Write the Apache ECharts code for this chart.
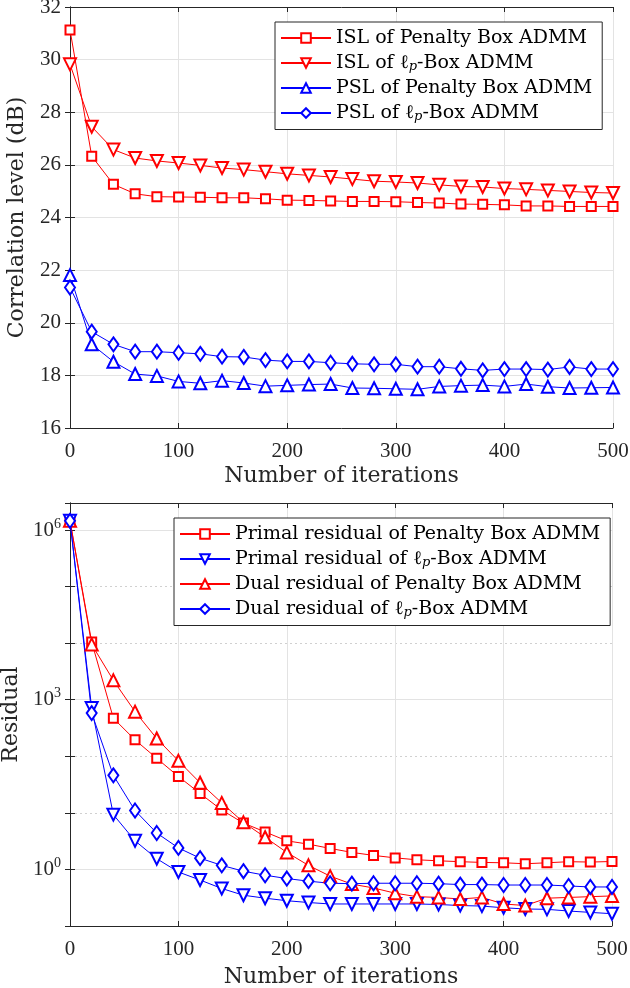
<!DOCTYPE html>
<html>
<head>
<meta charset="utf-8">
<script src="https://cdn.jsdelivr.net/npm/echarts@6/dist/echarts.min.js"></script>
<style>
html,body{margin:0;padding:0;background:#fff;}
#c{width:630px;height:988px;}
</style>
</head>
<body>
<div id="c"></div>
<script>
// ---- data ----
const iterations = [0,20,40,60,80,100,120,140,160,180,200,220,240,260,280,300,320,340,360,380,400,420,440,460,480,500];

const islPenalty = [31.13,26.33,25.26,24.90,24.79,24.78,24.77,24.75,24.75,24.71,24.66,24.65,24.63,24.61,24.61,24.60,24.57,24.55,24.51,24.50,24.48,24.44,24.44,24.42,24.42,24.42];
const islLp      = [29.82,27.45,26.58,26.26,26.15,26.07,25.98,25.88,25.82,25.74,25.66,25.60,25.54,25.46,25.38,25.35,25.31,25.24,25.18,25.16,25.10,25.07,25.03,24.99,24.95,24.93];
const pslPenalty = [21.81,19.18,18.52,18.05,17.98,17.77,17.70,17.80,17.71,17.59,17.62,17.65,17.67,17.52,17.51,17.49,17.47,17.58,17.61,17.63,17.58,17.67,17.57,17.52,17.53,17.54];
const pslLp      = [21.34,19.66,19.18,18.90,18.90,18.86,18.82,18.71,18.70,18.58,18.53,18.53,18.48,18.44,18.42,18.42,18.33,18.33,18.25,18.19,18.24,18.24,18.22,18.32,18.24,18.24];

const primalPenalty = [1.45e6,1.05e4,470,195,92,44,22,11.2,6.6,4.6,3.2,2.8,2.35,2.0,1.77,1.6,1.48,1.42,1.37,1.33,1.31,1.26,1.31,1.37,1.35,1.38];
const primalLp      = [1.45e6,710,9.3,3.2,1.55,0.9,0.65,0.46,0.35,0.31,0.28,0.26,0.245,0.245,0.245,0.245,0.245,0.24,0.23,0.225,0.21,0.20,0.197,0.184,0.174,0.165];
const dualPenalty   = [1.45e6,9.5e3,2.2e3,615,206,83,34,15,6.8,3.7,2.0,1.18,0.76,0.55,0.47,0.38,0.33,0.32,0.30,0.32,0.245,0.23,0.31,0.32,0.33,0.34];
const dualLp        = [1.45e6,580,46,11,4.4,2.4,1.58,1.18,0.93,0.79,0.69,0.62,0.57,0.56,0.57,0.57,0.57,0.56,0.54,0.54,0.53,0.53,0.53,0.51,0.49,0.49];

const namesTop = ['ISL of Penalty Box ADMM','ISL of ℓp-Box ADMM','PSL of Penalty Box ADMM','PSL of ℓp-Box ADMM'];
const namesBot = ['Primal residual of Penalty Box ADMM','Primal residual of ℓp-Box ADMM','Dual residual of Penalty Box ADMM','Dual residual of ℓp-Box ADMM'];

// ---- styles ----
const FONT = 'Liberation Serif';
const TFONT = 'DejaVu Serif';
const AX = '#262626';
const GRID = '#e3e3e3';
const RED = '#ff0000', BLUE = '#0000ff';

function pairs(vals){ return iterations.map((x,i)=>[x, vals[i]]); }

const richText = {
  l: {fontFamily: TFONT, fontSize: 19, color: '#000', lineHeight: 20},
  s: {fontFamily: TFONT, fontSize: 13, fontStyle: 'italic', color: '#000', padding: [8,0,0,0], lineHeight: 20}
};
function legendFmt(name){ return name.replace('ℓp', '{l|ℓ}{s|p}'); }

function mkSeries(name, vals, color, symbol, size, rot, xi, yi){
  return {
    name: name, type: 'line', xAxisIndex: xi, yAxisIndex: yi,
    data: pairs(vals),
    symbol: symbol, symbolSize: size, symbolRotate: rot,
    showAllSymbol: true,
    lineStyle: {color: color, width: 1},
    itemStyle: {color: color, borderWidth: 1.3},
    emphasis: {disabled: true},
    z: 3
  };
}

const baseX = {
  type: 'value', min: 0, max: 500, interval: 100,
  axisLine: {show: true, lineStyle: {color: AX, width: 1}},
  axisTick: {show: true, inside: true, length: 5, lineStyle: {color: AX}},
  splitLine: {show: true, lineStyle: {color: GRID, width: 1}},
  axisLabel: {fontFamily: FONT, fontSize: 21, color: AX, margin: 13}
};

function fmtLog(v){
  const e = Math.log10(v);
  const r = Math.round(e);
  if (Math.abs(e - r) > 1e-6 || r % 3 !== 0) return '';
  return '{b|10}{e|' + r + '}';
}

const legendBase = {
  orient: 'vertical', itemGap: 4.5, itemWidth: 50, itemHeight: 12,
  backgroundColor: '#fff', borderColor: AX, borderWidth: 1, padding: [6, 10, 6, 5],
  formatter: legendFmt, selectedMode: false,
  textStyle: {fontFamily: TFONT, fontSize: 19, color: '#000', lineHeight: 20, rich: richText}
};

const option = {
  animation: false,
  backgroundColor: '#fff',
  grid: [
    {left: 70, right: 17, top: 7, height: 421, containLabel: false, outerBoundsMode: 'none'},
    {left: 70, right: 18, top: 503, height: 423, containLabel: false, outerBoundsMode: 'none'}
  ],
  xAxis: [
    Object.assign({}, baseX, {gridIndex: 0, name: 'Number of iterations', nameLocation: 'middle', nameGap: 37,
      nameTextStyle: {fontFamily: TFONT, fontSize: 22, color: AX, verticalAlign: 'top'}}),
    Object.assign({}, baseX, {gridIndex: 0, position: 'top', axisLabel: {show: false}, splitLine: {show: false}}),
    Object.assign({}, baseX, {gridIndex: 1, name: 'Number of iterations', nameLocation: 'middle', nameGap: 40,
      nameTextStyle: {fontFamily: TFONT, fontSize: 22, color: AX, verticalAlign: 'top'}}),
    Object.assign({}, baseX, {gridIndex: 1, position: 'top', axisLabel: {show: false}, splitLine: {show: false}})
  ],
  yAxis: [
    {gridIndex: 0, type: 'value', min: 16, max: 32, interval: 2,
      name: 'Correlation level (dB)', nameLocation: 'middle', nameGap: 42, nameRotate: 90,
      nameTextStyle: {fontFamily: TFONT, fontSize: 22, color: AX},
      axisLine: {show: true, lineStyle: {color: AX}},
      axisTick: {show: true, inside: true, length: 5, lineStyle: {color: AX}},
      splitLine: {show: true, lineStyle: {color: GRID}},
      axisLabel: {fontFamily: FONT, fontSize: 21, color: AX, margin: 9}},
    {gridIndex: 0, type: 'value', min: 16, max: 32, interval: 2, position: 'right',
      axisLine: {show: true, lineStyle: {color: AX}},
      axisTick: {show: true, inside: true, length: 5, lineStyle: {color: AX}},
      splitLine: {show: false}, axisLabel: {show: false}},
    {gridIndex: 1, type: 'log', logBase: 10, min: 0.1, max: 3e6,
      name: 'Residual', nameLocation: 'middle', nameGap: 45, nameRotate: 90,
      nameTextStyle: {fontFamily: TFONT, fontSize: 22, color: AX},
      axisLine: {show: true, lineStyle: {color: AX}},
      axisTick: {show: true, inside: true, length: 5, lineStyle: {color: AX}},
      splitLine: {show: true, lineStyle: {color: ['#d0d0d0', 'rgba(0,0,0,0)', '#d0d0d0'], type: [2, 3], width: 1}},
      axisLabel: {fontFamily: FONT, fontSize: 21, color: AX, margin: 9, formatter: fmtLog,
        rich: {b: {fontFamily: FONT, fontSize: 21, color: AX},
               e: {fontFamily: FONT, fontSize: 14, color: AX, padding: [0,0,12,0]}}}},
    {gridIndex: 1, type: 'log', logBase: 10, min: 0.1, max: 3e6, position: 'right',
      axisLine: {show: true, lineStyle: {color: AX}},
      axisTick: {show: true, inside: true, length: 5, lineStyle: {color: AX}},
      splitLine: {show: true, lineStyle: {color: ['rgba(0,0,0,0)', GRID, 'rgba(0,0,0,0)'], width: 1}},
      axisLabel: {show: false}}
  ],
  legend: [
    Object.assign({}, legendBase, {data: namesTop, left: 275, top: 22}),
    Object.assign({}, legendBase, {data: namesBot, left: 174, top: 518})
  ],
  series: [
    mkSeries(namesTop[0], islPenalty, RED, 'emptyRect', 9, 0, 0, 0),
    mkSeries(namesTop[1], islLp, RED, 'emptyTriangle', 12, 180, 0, 0),
    mkSeries(namesTop[2], pslPenalty, BLUE, 'emptyTriangle', 12, 0, 0, 0),
    mkSeries(namesTop[3], pslLp, BLUE, 'emptyDiamond', [10, 14], 0, 0, 0),
    mkSeries(namesBot[0], primalPenalty, RED, 'emptyRect', 9, 0, 2, 2),
    mkSeries(namesBot[1], primalLp, BLUE, 'emptyTriangle', 12, 180, 2, 2),
    mkSeries(namesBot[2], dualPenalty, RED, 'emptyTriangle', 12, 0, 2, 2),
    mkSeries(namesBot[3], dualLp, BLUE, 'emptyDiamond', [10, 14], 0, 2, 2)
  ]
};

const chart = echarts.init(document.getElementById('c'), null, {renderer: 'canvas'});
chart.setOption(option);
</script>
</body>
</html>
